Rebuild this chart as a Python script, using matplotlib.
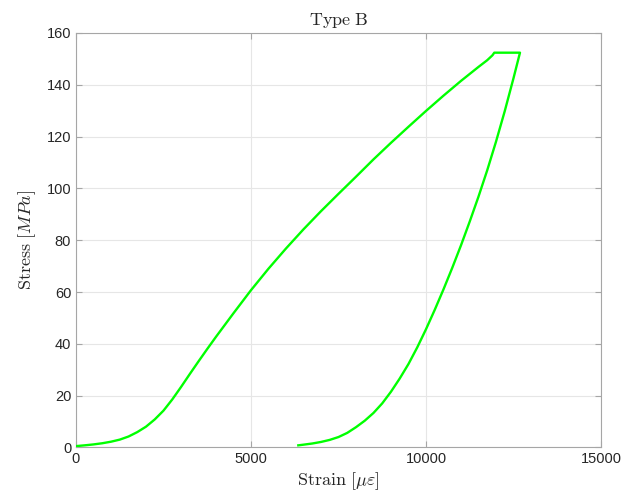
"""Stress-strain loop for the Type B specimen."""

import matplotlib
matplotlib.use("Agg")
import matplotlib.pyplot as plt

# loading branch, then hold at peak, then unloading branch
load_strain = [0, 250, 500, 750, 1000, 1250, 1500, 1750, 2000, 2250, 2500,
               2750, 3000, 3250, 3500, 3750, 4000, 4500, 5000, 5500, 6000,
               6500, 7000, 7500, 8000, 8500, 9000, 9500, 10000, 10500, 11000,
               11500, 11750, 11900, 11952]
load_stress = [0.5, 0.8, 1.15, 1.6, 2.2, 3.0, 4.2, 5.9, 8.0, 10.8, 14.2,
               18.5, 23.3, 28.3, 33.2, 38.0, 42.7, 51.8, 60.7, 69.0, 76.8,
               84.2, 91.2, 97.9, 104.5, 111.2, 117.6, 123.8, 129.9, 135.8, 141.5,
               146.9, 149.5, 151.4, 152.4]

hold_strain = [11952, 12686]
hold_stress = [152.4, 152.4]

unload_strain = [12686, 12500, 12250, 12000, 11750, 11500, 11250, 11000,
                 10750, 10500, 10250, 10000, 9750, 9500, 9250, 9000, 8750,
                 8500, 8250, 8000, 7750, 7500, 7250, 7000, 6750, 6500, 6352]
unload_stress = [152.4, 142.5, 129.8, 118.0, 107.0, 96.8, 87.2, 78.0,
                 69.3, 61.0, 53.1, 45.6, 38.6, 32.2, 26.6, 21.5, 17.0,
                 13.3, 10.3, 7.8, 5.6, 4.0, 2.9, 2.1, 1.5, 1.05, 0.8]

x_ticks = [0, 5000, 10000, 15000]
y_ticks = [0, 20, 40, 60, 80, 100, 120, 140, 160]

plt.rcParams["mathtext.fontset"] = "cm"
plt.rcParams["font.family"] = ["Liberation Sans", "DejaVu Sans"]

fig = plt.figure(figsize=(6.26, 5.0), dpi=100)
ax = fig.add_axes([0.1214, 0.1052, 0.8386, 0.8288])

strain = load_strain + hold_strain[1:] + unload_strain[1:]
stress = load_stress + hold_stress[1:] + unload_stress[1:]
ax.plot(strain, stress, color="#00ff00", linewidth=1.7,
        solid_joinstyle="round", zorder=3)

ax.set_xlim(0, 15000)
ax.set_ylim(0, 160)
ax.set_xticks(x_ticks)
ax.set_yticks(y_ticks)
ax.grid(True, color="#e6e6e6", linewidth=0.8)
ax.set_axisbelow(True)

for side in ax.spines.values():
    side.set_color("#a6a6a6")
    side.set_linewidth(0.8)
ax.tick_params(direction="in", length=4, width=0.8, color="#a6a6a6",
               labelcolor="#262626", labelsize=10.5,
               top=True, right=True)

ax.set_title(r"$\mathrm{Type\ B}$", fontsize=13, color="#262626", pad=6)
ax.set_xlabel(r"$\mathrm{Strain}\ [\mu\varepsilon]$", fontsize=13,
              color="#262626", labelpad=3)
ax.set_ylabel(r"$\mathrm{Stress}\ [MPa]$", fontsize=13,
              color="#262626", labelpad=6)

fig.savefig("out.png", dpi=100)
